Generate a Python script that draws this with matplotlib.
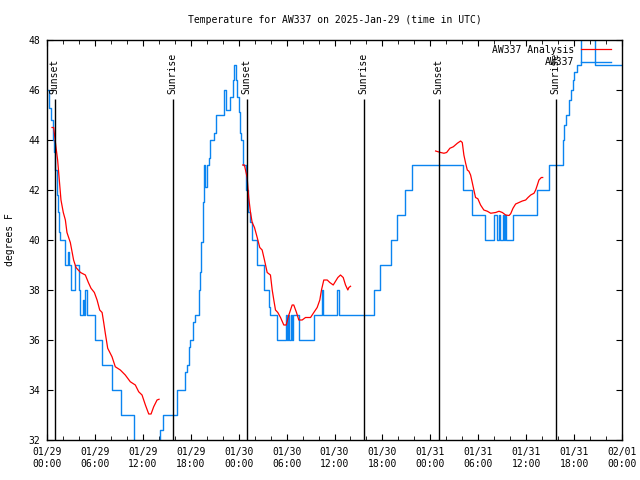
import matplotlib
matplotlib.use("Agg")
import matplotlib.pyplot as plt
import matplotlib.dates as mdates
import numpy as np
import pandas as pd

plt.rcParams['font.family'] = ['DejaVu Sans Mono']
plt.rcParams['font.size'] = 7

start = pd.Timestamp("2025-01-29 00:00")

# observed temperature (hours since 01/29 00:00 UTC, degrees F)
obs_hours = [0.0, 0.3, 0.55, 0.7, 0.82, 1.04, 1.2, 1.33, 1.5, 1.66, 2.25, 2.58, 2.79, 3.0,
             3.5, 3.95, 4.17, 4.46, 4.58, 4.8, 5.0, 6.05, 6.84, 8.18, 9.27, 10.85, 14.2,
             14.5, 16.28, 17.23, 17.54, 17.83, 17.95, 18.25, 18.5, 19.07, 19.2, 19.33,
             19.54, 19.66, 19.82, 20.04, 20.25, 20.45, 20.95, 21.17, 22.2, 22.45, 22.96,
             23.25, 23.46, 23.67, 23.84, 24.0, 24.14, 24.3, 24.55, 24.97, 25.12, 25.47,
             25.65, 26.3, 27.23, 27.77, 27.98, 28.82, 29.95, 30.07, 30.22, 30.35, 30.52,
             30.65, 30.85, 31.6, 33.4, 34.45, 34.6, 36.33, 36.6, 40.93, 41.75, 43.1,
             43.86, 44.77, 45.65, 52.1, 53.23, 54.8, 56.02, 56.36, 56.56, 56.69, 57.06,
             57.19, 57.4, 57.53, 58.32, 61.37, 62.82, 64.62, 64.79, 65.04, 65.33, 65.63,
             65.88, 66.04, 66.38, 66.88, 68.67, 72.0]
obs_temp = [46, 45.3, 44.8, 44, 43.5, 42.8, 41.8, 41.1, 40.3, 40, 39, 39.5, 39, 38,
            39, 38, 37, 37.6, 37, 38, 37, 36, 35, 34, 33, 31, 32.4,
            33, 34, 34.7, 35, 35.7, 36, 36.7, 37, 38, 38.7, 39.9,
            41.5, 43, 42.1, 43, 43.3, 44, 44.3, 45, 46, 45.2, 45.7,
            46.4, 47, 46.4, 45.7, 45.1, 44.3, 44, 43, 42, 41.1, 40.7,
            40, 39, 38, 37.3, 37, 36, 37, 36, 37, 36, 37,
            36, 37, 36, 37, 38, 37, 38, 37, 38, 39, 40,
            41, 42, 43, 42, 41, 40, 41, 40, 41, 40, 41,
            40, 41, 40, 41, 42, 43, 44, 44.6, 45, 45.6, 46,
            46.4, 46.7, 47, 49, 47, 47]

# analysis runs, one per night
ana1_hours = [0.63, 0.83, 1.13, 1.33, 1.54, 1.75, 2.04, 2.3, 2.5, 2.92, 3.33, 3.63, 4.2,
              4.8, 5.18, 5.51, 5.93, 6.27, 6.6, 6.9, 7.1, 7.3, 7.6, 8.14, 8.55, 9.18,
              9.8, 10.43, 11.06, 11.48, 11.9, 12.32, 12.74, 13.03, 13.36, 13.78, 14.03]
ana1_temp = [44.5, 44.5, 43.7, 43.2, 42.4, 41.6, 41.1, 40.8, 40.3, 39.9, 39.2, 38.9, 38.7,
             38.6, 38.3, 38.07, 37.9, 37.6, 37.2, 37.1, 36.7, 36.27, 35.67, 35.33, 34.93,
             34.8, 34.6, 34.33, 34.2, 33.93, 33.8, 33.4, 33.04, 33.04, 33.33, 33.6, 33.63]

ana2_hours = [24.51, 24.72, 25.06, 25.26, 25.48, 25.69, 25.98, 26.32, 26.64, 26.94, 27.23,
              27.57, 27.98, 28.2, 28.4, 28.61, 28.9, 29.24, 29.65, 29.95, 30.28, 30.7,
              30.9, 31.24, 31.53, 31.95, 32.37, 33.0, 33.41, 33.83, 34.16, 34.37, 34.66,
              35.09, 35.41, 35.84, 36.13, 36.42, 36.75, 37.09, 37.38, 37.67, 37.8, 38.01]
ana2_temp = [43.0, 43.0, 42.5, 41.7, 41.1, 40.7, 40.5, 40.1, 39.7, 39.6, 39.2,
             38.7, 38.6, 38.0, 37.6, 37.2, 37.1, 36.9, 36.6, 36.6, 37.0, 37.4,
             37.4, 37.1, 36.8, 36.8, 36.9, 36.9, 37.1, 37.3, 37.6, 38.0, 38.4,
             38.4, 38.3, 38.2, 38.35, 38.5, 38.6, 38.5, 38.2, 38.0, 38.1, 38.15]

ana3_hours = [48.66, 49.29, 49.7, 50.04, 50.45, 50.88, 51.38, 51.79, 52.0, 52.2, 52.42,
              52.63, 52.83, 53.04, 53.25, 53.45, 53.66, 53.95, 54.29, 54.7, 55.14, 55.56,
              56.18, 56.6, 57.02, 57.43, 57.85, 58.06, 58.35, 58.68, 59.1, 59.52, 59.94,
              60.23, 60.57, 60.98, 61.19, 61.4, 61.6, 61.9, 62.07]
ana3_temp = [43.56, 43.5, 43.47, 43.5, 43.67, 43.73, 43.87, 43.96, 43.9, 43.4, 43.07,
             42.8, 42.75, 42.6, 42.3, 42.0, 41.7, 41.65, 41.4, 41.2, 41.15, 41.07,
             41.1, 41.15, 41.1, 41.0, 40.98, 41.05, 41.27, 41.44, 41.5, 41.56, 41.6,
             41.7, 41.8, 41.87, 42.0, 42.2, 42.4, 42.5, 42.5]

sun_hours = [0.95, 15.72, 25.0, 39.67, 49.05, 63.7]
sun_labels = ["Sunset", "Sunrise", "Sunset", "Sunrise", "Sunset", "Sunrise"]


def to_time(hours):
    return start + pd.to_timedelta(np.array(hours), unit="h")


blue = "#0a84f0"
red = "#ff0000"

fig = plt.figure(figsize=(6.4, 4.8), dpi=100)
ax = fig.add_axes([47 / 640, 40 / 480, 575 / 640, 400 / 480])

first = True
for hrs, tmp in [(ana1_hours, ana1_temp), (ana2_hours, ana2_temp), (ana3_hours, ana3_temp)]:
    ax.plot(to_time(hrs), tmp, color=red, linewidth=0.9,
            label="AW337 Analysis" if first else None, zorder=3)
    first = False
ax.plot(to_time(obs_hours), obs_temp, color=blue, linewidth=1.0,
        drawstyle="steps-post", label="AW337", zorder=2)

for h, lab in zip(sun_hours, sun_labels):
    t = to_time([h])[0]
    ax.vlines(t, 32, 45.64, color="black", linewidth=1.0, zorder=4)
    ax.text(t, 45.82, lab, rotation=90, ha="center", va="bottom", fontsize=7)

ax.set_xlim(start, start + pd.Timedelta(hours=72))
ax.set_ylim(32, 48)
ax.set_yticks(np.arange(32, 49, 2))
ax.xaxis.set_major_locator(mdates.HourLocator(byhour=range(0, 24, 6)))
ax.xaxis.set_minor_locator(mdates.HourLocator(byhour=range(0, 24, 2)))
ax.xaxis.set_major_formatter(mdates.DateFormatter("%m/%d\n%H:%M"))

ax.tick_params(which="both", direction="in", top=True, right=True, labelsize=7)
ax.tick_params(which="major", length=4, pad=5)
ax.tick_params(which="minor", length=3)
for sp in ax.spines.values():
    sp.set_linewidth(1.0)

ax.set_title("Temperature for AW337 on 2025-Jan-29 (time in UTC)", fontsize=7, pad=12)
ax.set_ylabel("degrees F", fontsize=7)
ax.yaxis.set_label_coords(-0.055, 0.5)

ax.legend(loc="upper right", bbox_to_anchor=(0.98, 0.988), frameon=False, markerfirst=False,
          fontsize=7, handlelength=3.0, handletextpad=0.7, borderpad=0, borderaxespad=0,
          labelspacing=0.25)

fig.savefig("out.png", dpi=100)
